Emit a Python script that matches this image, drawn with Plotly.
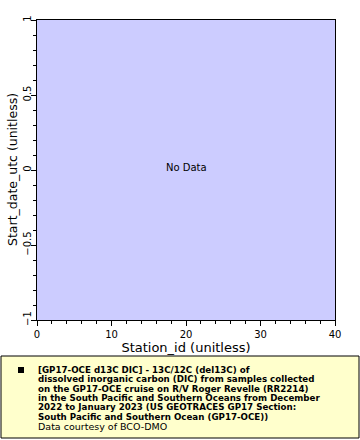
import plotly.graph_objects as go

# Data (no data available)
x_values = []
y_values = []
x_range = [0, 40]
y_range = [-1, 1]
x_title = "Station_id (unitless)"
y_title = "Start_date_utc (unitless)"
no_data_text = "No Data"
legend_lines = [
    "[GP17-OCE d13C DIC] - 13C/12C (del13C) of",
    "dissolved inorganic carbon (DIC) from samples collected",
    "on the GP17-OCE cruise on R/V Roger Revelle (RR2214)",
    "in the South Pacific and Southern Oceans from December",
    "2022 to January 2023 (US GEOTRACES GP17 Section:",
    "South Pacific and Southern Ocean (GP17-OCE))",
]
credit_line = "Data courtesy of BCO-DMO"

W, H = 360, 440
L, R, T, B = 37, 25, 20, 120
pw, ph = W - L - R, H - T - B

def px(xp):
    return (xp - L) / pw

def py(yp):
    return (H - B - yp) / ph

FONT = "DejaVu Sans"

fig = go.Figure()
fig.add_trace(go.Scatter(x=x_values, y=y_values, mode="markers", showlegend=False))

axis_common = dict(
    showgrid=False, zeroline=False, showline=True, linecolor="black", linewidth=1,
    mirror=True, ticks="outside", ticklen=5, tickcolor="black",
    tickfont=dict(family=FONT, size=10, color="black"),
)
fig.update_xaxes(range=x_range, dtick=10, tick0=0,
                 minor=dict(dtick=2, ticklen=3, ticks="outside", tickcolor="black"),
                 title=dict(text=x_title, font=dict(family=FONT, size=13, color="black"), standoff=2),
                 **axis_common)
fig.update_yaxes(range=y_range, dtick=0.5, tick0=0, tickangle=-90, ticklabelstandoff=-4,
                 minor=dict(dtick=0.1, ticklen=3, ticks="outside", tickcolor="black"),
                 **axis_common)

# Y axis title
fig.add_annotation(x=px(12), y=0.5, xref="paper", yref="paper",
                   xanchor="center", yanchor="middle", textangle=-90,
                   text=y_title, showarrow=False,
                   font=dict(family=FONT, size=12.5, color="black"))

fig.add_annotation(x=sum(x_range) / 2, y=sum(y_range) / 2, xref="x", yref="y",
                   yshift=3, text=no_data_text, showarrow=False,
                   font=dict(family=FONT, size=10, color="black"))

# Legend box
fig.add_shape(type="rect", xref="paper", yref="paper",
              x0=px(1), x1=px(359), y0=py(356), y1=py(438),
              fillcolor="#ffffcc", line=dict(color="black", width=1))
fig.add_shape(type="rect", xref="paper", yref="paper",
              x0=px(18), x1=px(24), y0=py(367), y1=py(373),
              fillcolor="black", line=dict(color="black", width=0))

line_y = [370, 379.3, 388.7, 398, 407.3, 416.7]
for ln, yy in zip(legend_lines, line_y):
    fig.add_annotation(x=px(36), y=py(yy), xref="paper", yref="paper",
                       xanchor="left", yanchor="middle", showarrow=False,
                       text="<b>" + ln + "</b>",
                       font=dict(family=FONT, size=8.7, color="black"))
fig.add_annotation(x=px(36), y=py(426), xref="paper", yref="paper",
                   xanchor="left", yanchor="middle", showarrow=False,
                   text=credit_line,
                   font=dict(family=FONT, size=9.5, color="black"))

fig.update_layout(
    width=W, height=H, margin=dict(l=L, r=R, t=T, b=B, autoexpand=False),
    plot_bgcolor="#ccccff", paper_bgcolor="white",
)

fig.write_html("out.html")
